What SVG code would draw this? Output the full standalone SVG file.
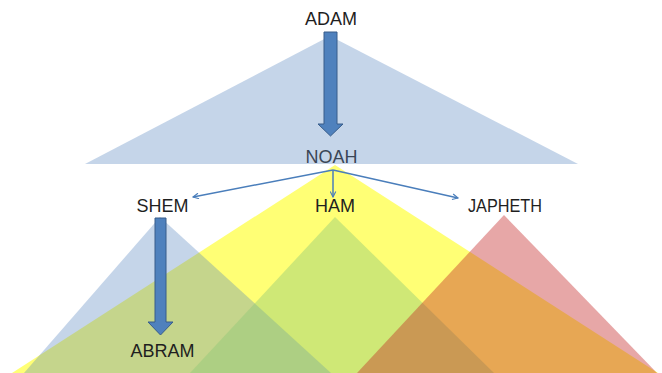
<svg xmlns="http://www.w3.org/2000/svg" width="662" height="373" viewBox="0 0 662 373">
  <style>
    .lbl { font-family: "Liberation Sans", Arial, sans-serif; font-size: 18px; fill: #1f1f1f; text-anchor: middle; }
    .blue { fill: #4F81BD; fill-opacity: 0.33; }
    .yellow { fill: #FFFF00; fill-opacity: 0.54; }
    .green { fill: #8CC877; fill-opacity: 0.42; }
    .pink { fill: #C42424; fill-opacity: 0.4; }
    .thin { stroke: #4A7EBB; stroke-width: 1.5; fill: none; marker-end: url(#vhead); }
    .block { fill: #4F81BD; stroke: #385D8A; stroke-width: 1; }
  </style>
  <defs>
    <marker id="vhead" viewBox="0 0 10 10" refX="9" refY="5" markerWidth="7" markerHeight="7" markerUnits="userSpaceOnUse" orient="auto">
      <polyline points="1,1 9,5 1,9" fill="none" stroke="#4A7EBB" stroke-width="1.6"/>
    </marker>
  </defs>
  <rect width="662" height="373" fill="#ffffff"/>
  <g id="shapes">
    <polygon class="blue" points="330,36 85,164 578,164"/>
    <polygon class="yellow" points="335,165 12,373 658,373"/>
    <polygon class="blue" points="160,217 24,373 331,373"/>
    <polygon class="green" points="335,217 190,373 494,373"/>
    <polygon class="pink" points="504,215 357,373 657,373"/>
  </g>
  <g id="connectors">
    <path class="block" d="M324,32 H337 V124 H343 L330.5,136 L318,124 H324 Z"/>
    <path class="block" d="M155,218 H166 V322 H173 L160.5,335 L148,322 H155 Z"/>
    <line class="thin" x1="333" y1="170" x2="193" y2="197"/>
    <line class="thin" x1="333" y1="170" x2="333" y2="197"/>
    <line class="thin" x1="333" y1="170" x2="458" y2="198"/>
  </g>
  <g id="adam"><text class="lbl" x="331" y="25">ADAM</text></g>
  <g id="noah"><text class="lbl" x="331.5" y="163" style="fill:#3a4656">NOAH</text></g>
  <g id="shem"><text class="lbl" x="162.5" y="212">SHEM</text></g>
  <g id="ham"><text class="lbl" x="335" y="212">HAM</text></g>
  <g id="japheth"><text class="lbl" x="505" y="212" textLength="74" lengthAdjust="spacingAndGlyphs">JAPHETH</text></g>
  <g id="abram"><text class="lbl" x="162.5" y="357">ABRAM</text></g>
</svg>
